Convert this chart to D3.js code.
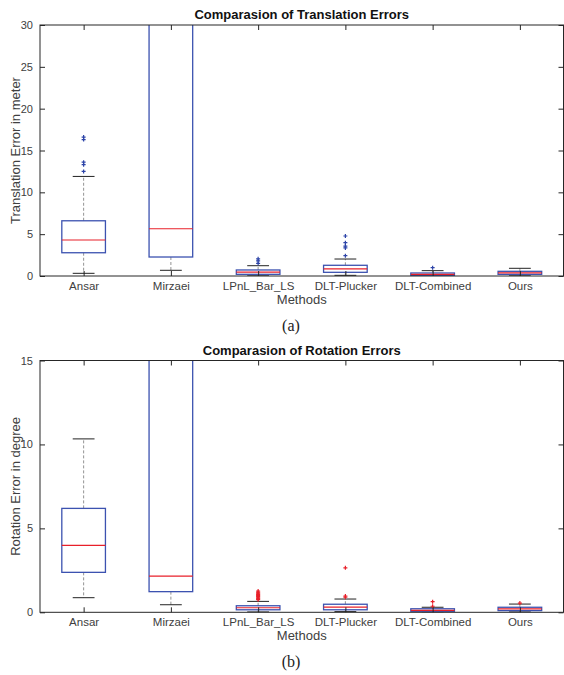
<!DOCTYPE html>
<html>
<head>
<meta charset="utf-8">
<script src="https://cdn.jsdelivr.net/npm/d3@7"></script>
<style>
  body { margin:0; background:#fff; }
  text { font-family: "Liberation Sans", Arial, sans-serif; }
</style>
</head>
<body>
<div id="chart"></div>
<script>
// data
var methods = ["Ansar","Mirzaei","LPnL_Bar_LS","DLT-Plucker","DLT-Combined","Ours"];

// translation errors (meter)
var transLo  = [0.32, 0.68, 0.02, 0.08, 0.0, 0.02];
var transQ1  = [2.78, 2.27, 0.20, 0.44, 0.04, 0.20];
var transMed = [4.30, 5.65, 0.46, 0.84, 0.20, 0.38];
var transQ3  = [6.60, 40.0, 0.72, 1.28, 0.36, 0.56];
var transHi  = [11.9, 60.0, 1.23, 2.03, 0.64, 0.92];
var transOut = [[12.5,13.3,13.6,16.3,16.6],[],[1.5,1.8,2.05],[2.43,3.35,3.58,3.98,4.78],[1.0],[]];

// rotation errors (degree)
var rotLo  = [0.87, 0.45, 0.02, 0.04, 0.0, 0.02];
var rotQ1  = [2.38, 1.23, 0.15, 0.15, 0.06, 0.10];
var rotMed = [3.99, 2.16, 0.27, 0.31, 0.12, 0.20];
var rotQ3  = [6.19, 30.0, 0.39, 0.48, 0.21, 0.30];
var rotHi  = [10.33, 40.0, 0.65, 0.79, 0.30, 0.49];
var rotOut = [[],[],[0.75,0.8,0.85,0.9,0.95,1.0,1.05,1.1,1.15,1.2,1.27],[0.9,0.97,2.65],[0.36,0.63],[0.55]];

var W = 564, H = 675;
var svg = d3.select("#chart").append("svg").attr("width",W).attr("height",H);

var boxBlue = "#3c52b0", medRed = "#e8202a", axisCol = "#262626", tickCol = "#404040";

function drawPanel(opt){
  var top = opt.top, bottom = opt.bottom, left = 40, right = 563.5;
  var x = d3.scaleLinear().domain([0.5, methods.length+0.5]).range([left,right]);
  var y = d3.scaleLinear().domain([0, opt.ymax]).range([bottom, top]);
  var g = svg.append("g");

  // clip so long boxes stop at the axes
  var cid = "clip"+opt.id;
  g.append("clipPath").attr("id",cid).append("rect")
    .attr("x",left).attr("y",top).attr("width",right-left).attr("height",bottom-top);
  var plot = g.append("g").attr("clip-path","url(#"+cid+")");

  var bw = (x(1)-x(0))*0.5, cw = bw*0.5;
  methods.forEach(function(m,i){
    var cx = x(i+1);
    // whiskers
    plot.append("line").attr("x1",cx).attr("x2",cx).attr("y1",y(opt.q3[i])).attr("y2",y(opt.hi[i]))
      .style("stroke","#777").style("stroke-dasharray","3,2").style("stroke-width",0.8);
    plot.append("line").attr("x1",cx).attr("x2",cx).attr("y1",y(opt.q1[i])).attr("y2",y(opt.lo[i]))
      .style("stroke","#777").style("stroke-dasharray","3,2").style("stroke-width",0.8);
    // caps
    [opt.hi[i], opt.lo[i]].forEach(function(v){
      plot.append("line").attr("x1",cx-cw/2).attr("x2",cx+cw/2).attr("y1",y(v)).attr("y2",y(v))
        .style("stroke","#222").style("stroke-width",1);
    });
    // box
    plot.append("rect").attr("x",cx-bw/2).attr("width",bw)
      .attr("y",y(opt.q3[i])).attr("height",y(opt.q1[i])-y(opt.q3[i]))
      .style("fill","none").style("stroke",boxBlue).style("stroke-width",1.3);
    // median
    plot.append("line").attr("x1",cx-bw/2).attr("x2",cx+bw/2).attr("y1",y(opt.med[i])).attr("y2",y(opt.med[i]))
      .style("stroke",medRed).style("stroke-width",1.2);
    // outliers
    opt.out[i].forEach(function(v){
      plot.append("path").attr("d","M"+(cx-2)+","+y(v)+"h4M"+cx+","+(y(v)-2)+"v4")
        .style("stroke",opt.outCol).style("stroke-width",1.2);
    });
  });

  // axes frame
  g.append("rect").attr("x",left).attr("y",top).attr("width",right-left).attr("height",bottom-top)
    .style("fill","none").style("stroke",axisCol).style("stroke-width",1);

  var yAxis = d3.axisLeft(y).tickValues(opt.yticks).tickSizeInner(-5).tickSizeOuter(0).tickPadding(7);
  var ya = g.append("g").attr("transform","translate("+left+",0)").call(yAxis);
  ya.select(".domain").remove();
  ya.selectAll("line").style("stroke",axisCol);
  ya.selectAll("text").style("font-size","11px").style("fill",tickCol);

  var yr = g.append("g").attr("transform","translate("+right+",0)")
    .call(d3.axisRight(y).tickValues(opt.yticks).tickSizeInner(-5).tickSizeOuter(0).tickFormat(""));
  yr.select(".domain").remove();
  yr.selectAll("line").style("stroke",axisCol);

  var xAxis = d3.axisBottom(x).tickValues(d3.range(1,methods.length+1))
    .tickFormat(function(d){ return methods[d-1]; }).tickSizeInner(-5).tickSizeOuter(0).tickPadding(6);
  var xa = g.append("g").attr("transform","translate(0,"+bottom+")").call(xAxis);
  xa.select(".domain").remove();
  xa.selectAll("line").style("stroke",axisCol);
  xa.selectAll("text").style("font-size","11.5px").style("fill",tickCol);

  var xt = g.append("g").attr("transform","translate(0,"+top+")")
    .call(d3.axisTop(x).tickValues(d3.range(1,methods.length+1)).tickSizeInner(-5).tickSizeOuter(0).tickFormat(""));
  xt.select(".domain").remove();
  xt.selectAll("line").style("stroke",axisCol);

  g.append("text").attr("x",(left+right)/2).attr("y",top-6).attr("text-anchor","middle")
    .style("font-size","13px").style("font-weight","bold").style("fill","#111").text(opt.title);
  g.append("text").attr("transform","translate(20,"+((top+bottom)/2)+") rotate(-90)")
    .attr("text-anchor","middle").style("font-size","13px").style("fill",tickCol).text(opt.ylabel);
  g.append("text").attr("x",(left+right)/2).attr("y",bottom+28).attr("text-anchor","middle")
    .style("font-size","13px").style("fill",tickCol).text("Methods");
  g.append("text").attr("x",291).attr("y",bottom+55).attr("text-anchor","middle")
    .style("font-family","'Liberation Serif', 'Times New Roman', serif").style("font-size","16px")
    .style("fill","#222").text(opt.tag);
}

drawPanel({id:"a", top:25, bottom:276, ymax:30, yticks:[0,5,10,15,20,25,30],
  lo:transLo, q1:transQ1, med:transMed, q3:transQ3, hi:transHi, out:transOut, outCol:"#2d44a8",
  title:"Comparasion of Translation Errors", ylabel:"Translation Error in meter", tag:"(a)"});

drawPanel({id:"b", top:360.5, bottom:612.3, ymax:15, yticks:[0,5,10,15],
  lo:rotLo, q1:rotQ1, med:rotMed, q3:rotQ3, hi:rotHi, out:rotOut, outCol:"#e8202a",
  title:"Comparasion of Rotation Errors", ylabel:"Rotation Error in degree", tag:"(b)"});
</script>
</body>
</html>
